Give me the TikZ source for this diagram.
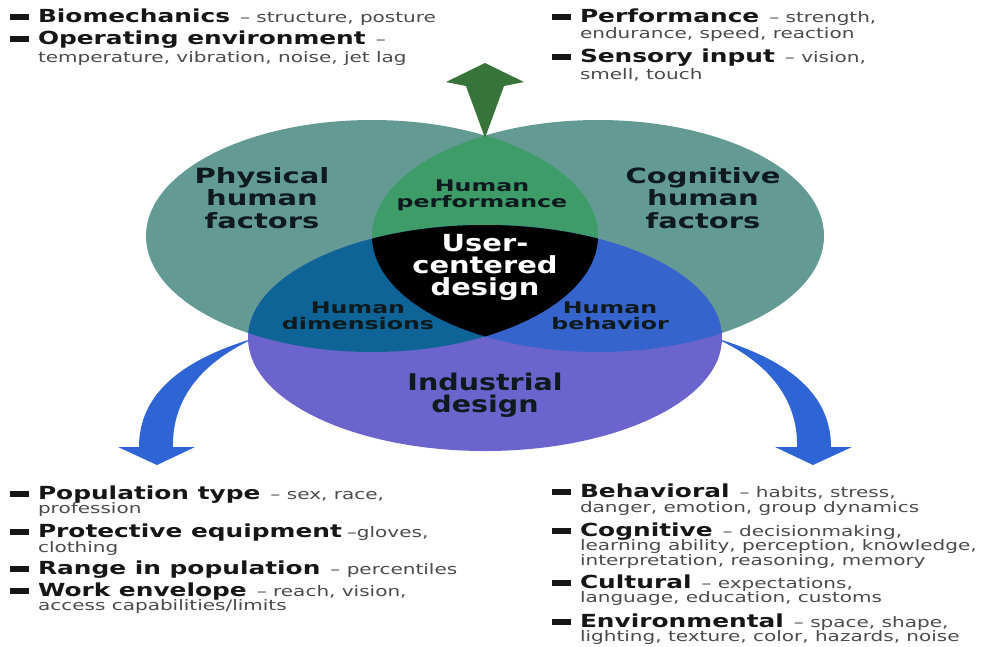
\documentclass[tikz,border=0pt]{standalone}
\usepackage{fontspec}
% DejaVu Sans widened by several amounts for the different label roles
\newfontfamily\dvs[FakeStretch=1.38]{DejaVu Sans}
\newfontfamily\dvsWide[FakeStretch=1.48]{DejaVu Sans}
\newfontfamily\dvsMid[FakeStretch=1.24]{DejaVu Sans}
\newfontfamily\dvsTall[FakeStretch=1.23]{DejaVu Sans}
\definecolor{sidefill}{RGB}{99,155,148}
\definecolor{lensgreen}{RGB}{62,156,104}
\definecolor{upgreen}{RGB}{55,116,58}
\definecolor{dimfill}{RGB}{14,100,150}
\definecolor{behfill}{RGB}{54,100,205}
\definecolor{indfill}{RGB}{106,100,204}
\definecolor{downblue}{RGB}{46,100,212}
\definecolor{headtext}{RGB}{22,22,22}
\definecolor{desctext}{RGB}{74,74,74}
\definecolor{vtext}{RGB}{14,26,30}
% list helpers: bar bullet, bold heading, grey description
\newcommand\itembar{\llap{\rule[2.5pt]{19pt}{6pt}\hspace{9pt}}}
\newcommand\boldpart[1]{{\fontsize{18}{20}\selectfont\bfseries #1}}
\newcommand\descpart[1]{{\color{desctext}\fontsize{14.5}{16}\selectfont #1}}
\newcommand\dashgap{\hspace{10pt}}
\begin{document}
\begin{tikzpicture}[x=1pt,y=-1pt,
  itm/.style={anchor=base west,inner sep=0pt,outer sep=0pt,font=\dvs,text=headtext},
  vbig/.style={anchor=base,inner sep=0pt,font=\dvs\bfseries\fontsize{21}{24}\selectfont,text=vtext},
  vind/.style={anchor=base,inner sep=0pt,font=\dvsMid\bfseries\fontsize{23}{25}\selectfont,text=vtext},
  vsmall/.style={anchor=base,inner sep=0pt,font=\dvsWide\bfseries\fontsize{16}{18}\selectfont,text=vtext},
  vwhite/.style={anchor=base,inner sep=0pt,font=\dvsTall\bfseries\fontsize{23.5}{25}\selectfont,text=white}]
\useasboundingbox (0,0) rectangle (984,646);

% curved arrows leading down to the two lower lists
\coordinate (lstart) at (255,338);
\coordinate (rstart) at (715,338);
\coordinate (ltip) at (157,465);
\coordinate (rtip) at (813,465);
\fill[downblue] (lstart) .. controls (180,360) and (139,395) .. (139,447)
  -- (118,447) -- (ltip) -- (195,447) -- (173,447)
  .. controls (172,405) and (195,365) .. (lstart) -- cycle;
\fill[downblue] (rstart) .. controls (790,360) and (831,395) .. (831,447)
  -- (852,447) -- (rtip) -- (775,447) -- (797,447)
  .. controls (798,405) and (775,365) .. (rstart) -- cycle;

% three overlapping ellipses
\fill[sidefill] (372,236) ellipse [x radius=226pt, y radius=116pt];
\fill[sidefill] (598,236) ellipse [x radius=226pt, y radius=116pt];
\fill[indfill] (485,338) ellipse [x radius=237pt, y radius=113pt];
\begin{scope}
  \clip (372,236) ellipse [x radius=226pt, y radius=116pt];
  \fill[lensgreen] (598,236) ellipse [x radius=226pt, y radius=116pt];
  \fill[dimfill] (485,338) ellipse [x radius=237pt, y radius=113pt];
\end{scope}
\begin{scope}
  \clip (598,236) ellipse [x radius=226pt, y radius=116pt];
  \fill[behfill] (485,338) ellipse [x radius=237pt, y radius=113pt];
  \clip (372,236) ellipse [x radius=226pt, y radius=116pt];
  \fill[black] (485,338) ellipse [x radius=237pt, y radius=113pt];
\end{scope}

% arrow pointing up to the upper lists
\coordinate (utail) at (485,138);
\coordinate (utip) at (485,63);
\fill[upgreen] (utip) -- (524,82) -- (504,86) -- (utail) -- (466,86) -- (446,82) -- cycle;

% labels inside the ellipses
\node[vbig] (ph1) at (262,183) {Physical};
\node[vbig] (ph2) at (262,205) {human};
\node[vbig] (ph3) at (262,228) {factors};
\node[vbig] (cg1) at (703,183) {Cognitive};
\node[vbig] (cg2) at (703,205) {human};
\node[vbig] (cg3) at (703,228) {factors};
\node[vsmall] (hp1) at (482,191) {Human};
\node[vsmall] (hp2) at (482,207.5) {performance};
\node[vwhite] (uc1) at (485,251) {User-};
\node[vwhite] (uc2) at (485,273.5) {centered};
\node[vwhite] (uc3) at (485,295.5) {design};
\node[vsmall] (hd1) at (358,313) {Human};
\node[vsmall] (hd2) at (358,329.5) {dimensions};
\node[vsmall] (hb1) at (610,313) {Human};
\node[vsmall] (hb2) at (610,329.5) {behavior};
\node[vind] (id1) at (485,390) {Industrial};
\node[vind] (id2) at (485,412.5) {design};

% upper left list
\node[itm] (tl1) at (38,22.5) {\itembar\boldpart{Biomechanics}\dashgap\descpart{– structure, posture}};
\node[itm] (tl2) at (38,44) {\itembar\boldpart{Operating environment}\dashgap\descpart{–}};
\node[itm] (tl3) at (38,62.5) {\descpart{temperature, vibration, noise, jet lag}};

% upper right list
\node[itm] (tr1) at (580,22.5) {\itembar\boldpart{Performance}\dashgap\descpart{– strength,}};
\node[itm] (tr2) at (580,38.5) {\descpart{endurance, speed, reaction}};
\node[itm] (tr3) at (580,62) {\itembar\boldpart{Sensory input}\dashgap\descpart{– vision,}};
\node[itm] (tr4) at (580,79) {\descpart{smell, touch}};

% lower left list
\node[itm] (bl1) at (38,499) {\itembar\boldpart{Population type}\dashgap\descpart{– sex, race,}};
\node[itm] (bl2) at (38,513.5) {\descpart{profession}};
\node[itm] (bl3) at (38,537) {\itembar\boldpart{Protective equipment}\hspace{5pt}\descpart{–gloves,}};
\node[itm] (bl4) at (38,552) {\descpart{clothing}};
\node[itm] (bl5) at (38,574) {\itembar\boldpart{Range in population}\dashgap\descpart{– percentiles}};
\node[itm] (bl6) at (38,596) {\itembar\boldpart{Work envelope}\dashgap\descpart{– reach, vision,}};
\node[itm] (bl7) at (38,610) {\descpart{access capabilities/limits}};

% lower right list
\node[itm] (br1) at (580,497) {\itembar\boldpart{Behavioral}\dashgap\descpart{– habits, stress,}};
\node[itm] (br2) at (580,512.5) {\descpart{danger, emotion, group dynamics}};
\node[itm] (br3) at (580,536) {\itembar\boldpart{Cognitive}\dashgap\descpart{– decisionmaking,}};
\node[itm] (br4) at (580,550) {\descpart{learning ability, perception, knowledge,}};
\node[itm] (br5) at (580,565.5) {\descpart{interpretation, reasoning, memory}};
\node[itm] (br6) at (580,588) {\itembar\boldpart{Cultural}\dashgap\descpart{– expectations,}};
\node[itm] (br7) at (580,602.5) {\descpart{language, education, customs}};
\node[itm] (br8) at (580,627) {\itembar\boldpart{Environmental}\dashgap\descpart{– space, shape,}};
\node[itm] (br9) at (580,641) {\descpart{lighting, texture, color, hazards, noise}};
\end{tikzpicture}
\end{document}
